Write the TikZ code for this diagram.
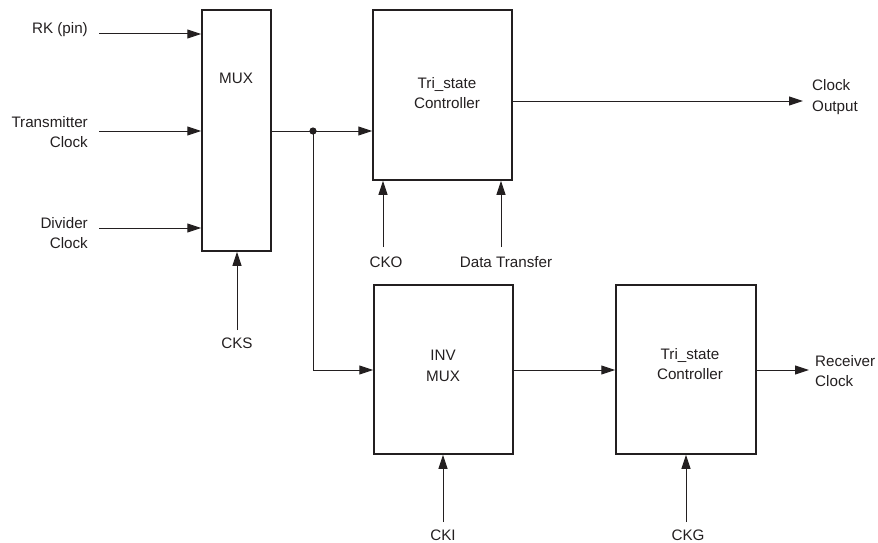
\documentclass[tikz,border=0pt]{standalone}
\usepackage{fontspec}
\setmainfont{Liberation Sans}
\usetikzlibrary{arrows.meta}
\definecolor{ink}{RGB}{35,31,32}
\begin{document}
\begin{tikzpicture}[x=1pt,y=-1pt, color=ink,
  font=\fontsize{15.2}{20.5}\selectfont,
  blk/.style={draw, line width=1.5pt, minimum width=#1, inner sep=0pt},
  lbl/.style={inner sep=0pt, align=center},
  conn/.style={line width=1pt},
  arr/.style={conn, -{Triangle[length=14pt,width=9pt]}}]
\useasboundingbox (0,0) rectangle (878,543);
% boxes
\node[blk=69pt, minimum height=241pt] (mux) at (236.5,130.5) {};
\node[blk=139pt, minimum height=170pt] (tri1) at (442.5,95) {};
\node[blk=139pt, minimum height=169pt] (inv) at (443.5,369.5) {};
\node[blk=140pt, minimum height=169pt] (tri2) at (686,369.5) {};
% box texts
\node[lbl] (muxt) at (236,78) {MUX};
\node[lbl] (tri1t) at (447,93) {Tri\_state\\Controller};
\node[lbl] (invt) at (443,366) {INV\\MUX};
\node[lbl] (tri2t) at (690,364) {Tri\_state\\Controller};
% outside labels
\node[lbl, anchor=east] (rk) at (88,30) {RK (pin)};
\node[lbl, anchor=east, align=right] (tx) at (88,132) {Transmitter\\Clock};
\node[lbl, anchor=east, align=right] (dv) at (88,233) {Divider\\Clock};
\node[lbl] (cks) at (237,343) {CKS};
\node[lbl] (cko) at (386,262) {CKO};
\node[lbl] (dt) at (506,262) {Data Transfer};
\node[lbl] (cki) at (443,535) {CKI};
\node[lbl] (ckg) at (688,535) {CKG};
\node[lbl, anchor=west, align=left] (co) at (812,97) {Clock\\Output};
\node[lbl, anchor=west, align=left] (rc) at (815,371) {Receiver\\Clock};
% connector end points
\coordinate (rkin) at (99,34);
\coordinate (txin) at (99,131);
\coordinate (dvin) at (99,228);
\coordinate (cksin) at (237,330);
\coordinate (ckoin) at (383,247);
\coordinate (dtin) at (501,247);
\coordinate (ckiin) at (443,522);
\coordinate (ckgin) at (686,522);
\coordinate (dot) at (313,131);
\coordinate (corner) at (313,370);
\coordinate (coout) at (803,101);
\coordinate (rcout) at (809,370);
% connectors
\draw[arr] (rkin) -- (rkin -| mux.west);
\draw[arr] (txin) -- (txin -| mux.west);
\draw[arr] (dvin) -- (dvin -| mux.west);
\draw[arr] (cksin) -- (cksin |- mux.south);
\draw[conn] (dot -| mux.east) -- (dot);
\draw[arr] (dot) -- (dot -| tri1.west);
\fill (dot) circle (3.6pt);
\draw[arr] (dot) -- (corner) -- (corner -| inv.west);
\draw[arr] (ckoin) -- (ckoin |- tri1.south);
\draw[arr] (dtin) -- (dtin |- tri1.south);
\draw[arr] (coout -| tri1.east) -- (coout);
\draw[arr] (corner -| inv.east) -- (corner -| tri2.west);
\draw[arr] (ckiin) -- (ckiin |- inv.south);
\draw[arr] (ckgin) -- (ckgin |- tri2.south);
\draw[arr] (rcout -| tri2.east) -- (rcout);
\end{tikzpicture}
\end{document}
